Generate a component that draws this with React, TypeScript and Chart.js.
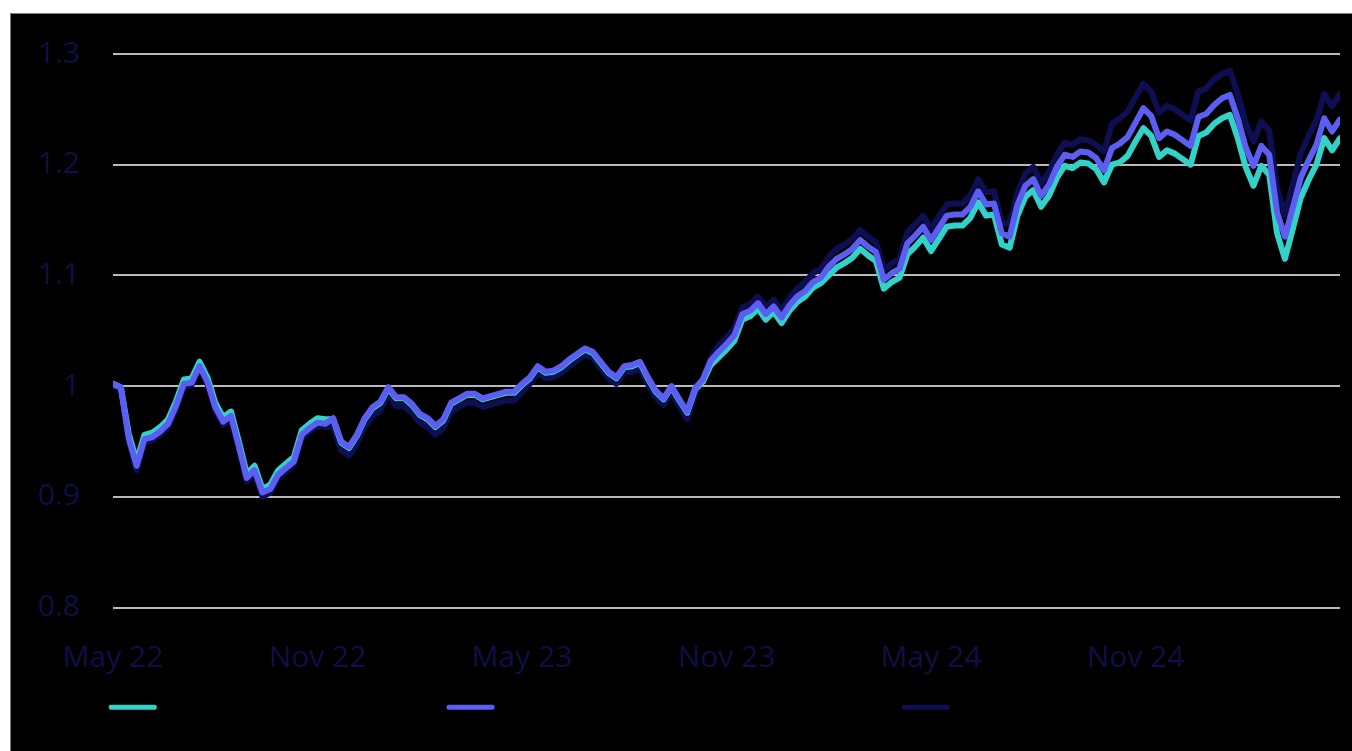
import { useEffect, useRef } from "react";
import { Chart, registerables } from "chart.js";

Chart.register(...registerables);

// Weekly index positions of the x-axis tick labels (week 0 = start of May 2022)
const tickWeeks = [0, 26, 52, 78, 104, 130];
const tickLabels = ["May 22", "Nov 22", "May 23", "Nov 23", "May 24", "Nov 24"];
const yTickValues = [0.8, 0.9, 1.0, 1.1, 1.2, 1.3];

const seriesNames = [
  "Model Portfolios - Core",
  "Model Portfolios - Core + Overlay",
  "Global Equity Index (TR)",
];

const cyanValues = [
  1.002, 0.999, 0.957, 0.932, 0.956, 0.958, 0.963, 0.970, 0.986, 1.006,
  1.007, 1.022, 1.008, 0.985, 0.972, 0.977, 0.950, 0.921, 0.928, 0.907,
  0.911, 0.924, 0.930, 0.936, 0.960, 0.966, 0.971, 0.970, 0.970, 0.949,
  0.944, 0.955, 0.970, 0.980, 0.985, 0.998, 0.989, 0.989, 0.983, 0.974,
  0.970, 0.963, 0.969, 0.984, 0.988, 0.992, 0.992, 0.988, 0.990, 0.992,
  0.994, 0.994, 1.001, 1.007, 1.017, 1.012, 1.013, 1.017, 1.023, 1.028,
  1.033, 1.030, 1.021, 1.012, 1.007, 1.017, 1.018, 1.021, 1.007, 0.995,
  0.988, 0.999, 0.987, 0.976, 0.997, 1.004, 1.019, 1.026, 1.033, 1.041,
  1.060, 1.063, 1.070, 1.060, 1.067, 1.057, 1.068, 1.076, 1.081, 1.089,
  1.093, 1.100, 1.107, 1.111, 1.116, 1.124, 1.118, 1.113, 1.088, 1.094,
  1.098, 1.119, 1.126, 1.134, 1.122, 1.133, 1.144, 1.145, 1.145, 1.152,
  1.166, 1.154, 1.155, 1.128, 1.125, 1.154, 1.171, 1.177, 1.162, 1.172,
  1.188, 1.199, 1.197, 1.202, 1.201, 1.196, 1.184, 1.200, 1.202, 1.208,
  1.221, 1.233, 1.226, 1.207, 1.213, 1.210, 1.205, 1.200, 1.226, 1.229,
  1.237, 1.242, 1.245, 1.224, 1.198, 1.181, 1.199, 1.191, 1.138, 1.115,
  1.142, 1.170, 1.186, 1.200, 1.224, 1.213, 1.224,
];

const blueValues = [
  1.002, 0.999, 0.953, 0.928, 0.952, 0.954, 0.959, 0.966, 0.982, 1.002,
  1.003, 1.018, 1.004, 0.981, 0.968, 0.973, 0.946, 0.917, 0.924, 0.904,
  0.907, 0.920, 0.926, 0.932, 0.956, 0.962, 0.967, 0.966, 0.971, 0.950,
  0.945, 0.956, 0.971, 0.981, 0.986, 0.999, 0.990, 0.990, 0.984, 0.975,
  0.971, 0.964, 0.970, 0.985, 0.989, 0.993, 0.993, 0.989, 0.991, 0.993,
  0.995, 0.995, 1.002, 1.008, 1.018, 1.013, 1.014, 1.018, 1.024, 1.029,
  1.034, 1.031, 1.022, 1.013, 1.008, 1.018, 1.019, 1.022, 1.008, 0.996,
  0.989, 1.000, 0.988, 0.977, 0.998, 1.006, 1.023, 1.031, 1.038, 1.046,
  1.065, 1.068, 1.075, 1.065, 1.072, 1.062, 1.073, 1.081, 1.086, 1.094,
  1.098, 1.108, 1.115, 1.119, 1.124, 1.132, 1.126, 1.121, 1.096, 1.102,
  1.106, 1.129, 1.136, 1.144, 1.132, 1.143, 1.154, 1.155, 1.155, 1.162,
  1.176, 1.164, 1.165, 1.138, 1.135, 1.164, 1.181, 1.187, 1.172, 1.182,
  1.198, 1.209, 1.207, 1.212, 1.211, 1.206, 1.195, 1.215, 1.219, 1.225,
  1.238, 1.251, 1.244, 1.224, 1.230, 1.227, 1.222, 1.217, 1.243, 1.246,
  1.254, 1.260, 1.263, 1.242, 1.216, 1.199, 1.217, 1.209, 1.157, 1.135,
  1.161, 1.188, 1.204, 1.218, 1.242, 1.230, 1.241,
];

const navyValues = [
  1.001, 0.997, 0.950, 0.924, 0.949, 0.951, 0.956, 0.963, 0.979, 0.999,
  1.001, 1.020, 1.002, 0.978, 0.965, 0.970, 0.943, 0.914, 0.921, 0.900,
  0.904, 0.917, 0.923, 0.929, 0.953, 0.959, 0.964, 0.963, 0.963, 0.942,
  0.937, 0.948, 0.963, 0.973, 0.978, 0.993, 0.982, 0.982, 0.976, 0.967,
  0.963, 0.956, 0.962, 0.977, 0.981, 0.985, 0.985, 0.981, 0.983, 0.985,
  0.987, 0.987, 0.995, 1.002, 1.012, 1.007, 1.008, 1.012, 1.018, 1.023,
  1.028, 1.026, 1.016, 1.007, 1.002, 1.012, 1.013, 1.016, 1.002, 0.990,
  0.983, 0.994, 0.982, 0.970, 0.992, 1.007, 1.026, 1.037, 1.044, 1.052,
  1.071, 1.074, 1.081, 1.071, 1.078, 1.068, 1.080, 1.088, 1.094, 1.102,
  1.106, 1.117, 1.124, 1.128, 1.133, 1.141, 1.135, 1.130, 1.105, 1.111,
  1.115, 1.139, 1.146, 1.154, 1.142, 1.153, 1.164, 1.165, 1.165, 1.172,
  1.187, 1.175, 1.176, 1.149, 1.146, 1.175, 1.192, 1.198, 1.183, 1.193,
  1.209, 1.220, 1.218, 1.223, 1.222, 1.218, 1.212, 1.237, 1.242, 1.248,
  1.261, 1.273, 1.266, 1.247, 1.253, 1.250, 1.245, 1.240, 1.266, 1.269,
  1.277, 1.282, 1.285, 1.264, 1.238, 1.221, 1.239, 1.231, 1.178, 1.155,
  1.182, 1.210, 1.226, 1.240, 1.264, 1.253, 1.264,
];

const CYAN = "#32d2c8";
const BLUE = "#5b5ef0";
const NAVY = "#0e0e52";
const LABEL = "#0f0f48";
const GRID = "#b8b8be";

export default function App() {
  const canvasRef = useRef<HTMLCanvasElement>(null);

  useEffect(() => {
    const canvas = canvasRef.current;
    if (!canvas) return;
    const toPoints = (arr: number[]) => arr.map((y, i) => ({ x: i, y }));
    const axisFont = { family: "'Open Sans', sans-serif", size: 30 };

    const chart = new Chart(canvas, {
      type: "line",
      data: {
        datasets: [
          { label: seriesNames[0], data: toPoints(cyanValues), borderColor: CYAN, backgroundColor: CYAN, order: 1 },
          { label: seriesNames[1], data: toPoints(blueValues), borderColor: BLUE, backgroundColor: BLUE, order: 0 },
          { label: seriesNames[2], data: toPoints(navyValues), borderColor: NAVY, backgroundColor: NAVY, order: 2 },
        ],
      },
      options: {
        responsive: false,
        animation: false,
        layout: { padding: { top: 41, right: 12, bottom: 24, left: 0 } },
        elements: {
          point: { radius: 0, hoverRadius: 0 },
          line: { borderWidth: 6, tension: 0, borderJoinStyle: "round", borderCapStyle: "round" },
        },
        scales: {
          x: {
            type: "linear",
            min: 0,
            max: cyanValues.length - 1,
            afterBuildTicks: (s: any) => {
              s.ticks = tickWeeks.map((v) => ({ value: v }));
            },
            afterFit: (s: any) => {
              s.height = 80;
            },
            ticks: {
              autoSkip: false,
              maxRotation: 0,
              padding: 33,
              color: LABEL,
              font: axisFont,
              callback: (v: any) => {
                const idx = tickWeeks.indexOf(Number(v));
                return idx >= 0 ? tickLabels[idx] : "";
              },
            },
            grid: { display: false, drawTicks: false },
            border: { display: false },
          },
          y: {
            min: 0.8,
            max: 1.3,
            afterBuildTicks: (s: any) => {
              s.ticks = yTickValues.map((v) => ({ value: v }));
            },
            afterFit: (s: any) => {
              s.width = 103;
              s.paddingTop = 0;
              s.paddingBottom = 0;
            },
            ticks: {
              padding: 33,
              color: LABEL,
              font: axisFont,
              callback: (v: any) => String(Number(Number(v).toFixed(1))),
            },
            grid: { color: GRID, lineWidth: 2, drawTicks: false },
            border: { display: false },
          },
        },
        plugins: {
          legend: {
            position: "bottom",
            labels: {
              boxWidth: 48,
              boxHeight: 5,
              padding: 10,
              color: "#000000",
              font: { family: "'DejaVu Sans Mono', monospace", size: 19.5 },
              useBorderRadius: true,
              borderRadius: 2,
              generateLabels: (c: any) =>
                Chart.defaults.plugins.legend.labels
                  .generateLabels(c)
                  .map((l: any) => ({ ...l, lineWidth: 0 })),
              sort: (a: any, b: any) => a.datasetIndex - b.datasetIndex,
            },
          },
          tooltip: { enabled: false },
        },
      },
    } as any);

    return () => chart.destroy();
  }, []);

  return (
    <div
      style={{
        position: "absolute",
        left: 10,
        top: 13,
        width: 1342,
        height: 738,
        background: "#000",
        boxShadow: "inset 1px 1px 0 #7a7a7a",
      }}
    >
      <canvas ref={canvasRef} width={1342} height={738} style={{ display: "block" }} />
    </div>
  );
}
